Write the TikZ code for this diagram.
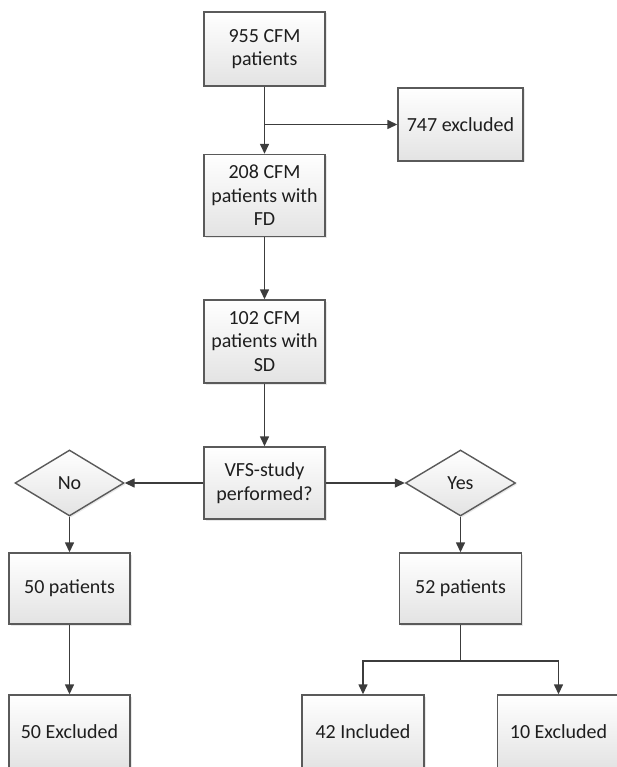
\documentclass[tikz,border=0pt]{standalone}
\usepackage{fontspec}
\setmainfont{Carlito}
\usetikzlibrary{arrows.meta,shapes.geometric,shadows}
\definecolor{edgec}{HTML}{5A5A5A}
\definecolor{lnc}{HTML}{3C3C3C}
\definecolor{txtc}{HTML}{1E1E1E}
\tikzset{
  box/.style={draw=edgec, line width=1.4pt, top color=white, bottom color=black!11,
    drop shadow={opacity=0.18,shadow xshift=1.5pt,shadow yshift=-1.5pt},
    align=center, text=txtc, font=\fontsize{20}{23.5}\selectfont, inner sep=2pt},
  dia/.style={box, diamond, inner sep=0pt},
  arr/.style={draw=lnc, line width=1.4pt, -{Triangle[length=10pt,width=9pt]}},
  plain/.style={draw=lnc, line width=1.4pt},
}
\begin{document}
\begin{tikzpicture}[x=1pt,y=-1pt]
\useasboundingbox[fill=white] (0,0) rectangle (617,767);
\clip (0,0) rectangle (617,767);
\node[box, minimum width=121pt, minimum height=74pt] (b1) at (264.5,49) {955 CFM\\patients};
\node[box, minimum width=125pt, minimum height=73pt] (ex) at (460.5,124.5) {747 excluded};
\node[box, minimum width=121pt, minimum height=82pt] (b2) at (264.5,195.5) {208 CFM\\patients with\\FD};
\node[box, minimum width=121pt, minimum height=83pt] (b3) at (264.5,341.5) {102 CFM\\patients with\\SD};
\node[box, minimum width=121pt, minimum height=72pt] (vfs) at (264.5,483) {VFS-study\\performed?};
\node[dia, minimum width=109pt, minimum height=66pt] (no) at (69.5,483) {No};
\node[dia, minimum width=110pt, minimum height=66pt] (yes) at (460.5,483) {Yes};
\node[box, minimum width=121pt, minimum height=71pt] (p50) at (69.5,588.5) {50 patients};
\node[box, minimum width=122pt, minimum height=71pt] (p52) at (460.5,588.5) {52 patients};
\node[box, minimum width=121pt, minimum height=74pt] (e50) at (69.5,732) {50 Excluded};
\node[box, minimum width=122pt, minimum height=74pt] (inc) at (363,732) {42 Included};
\node[box, minimum width=122pt, minimum height=74pt] (e10) at (558.5,732) {10 Excluded};
\draw[arr] (b1.south) -- (b2.north);
\draw[arr] (b1.south |- ex.west) -- (ex.west);
\draw[arr] (b2.south) -- (b3.north);
\draw[arr] (b3.south) -- (vfs.north);
\draw[arr] (vfs.west) -- (no.east);
\draw[arr] (vfs.east) -- (yes.west);
\draw[arr] (no.south) -- (p50.north);
\draw[arr] (yes.south) -- (p52.north);
\draw[arr] (p50.south) -- (e50.north);
\coordinate (br) at (460.5,661);
\draw[plain] (p52.south) -- (br);
\draw[arr] (br) -| (inc.north);
\draw[arr] (br) -| (e10.north);
\end{tikzpicture}
\end{document}
